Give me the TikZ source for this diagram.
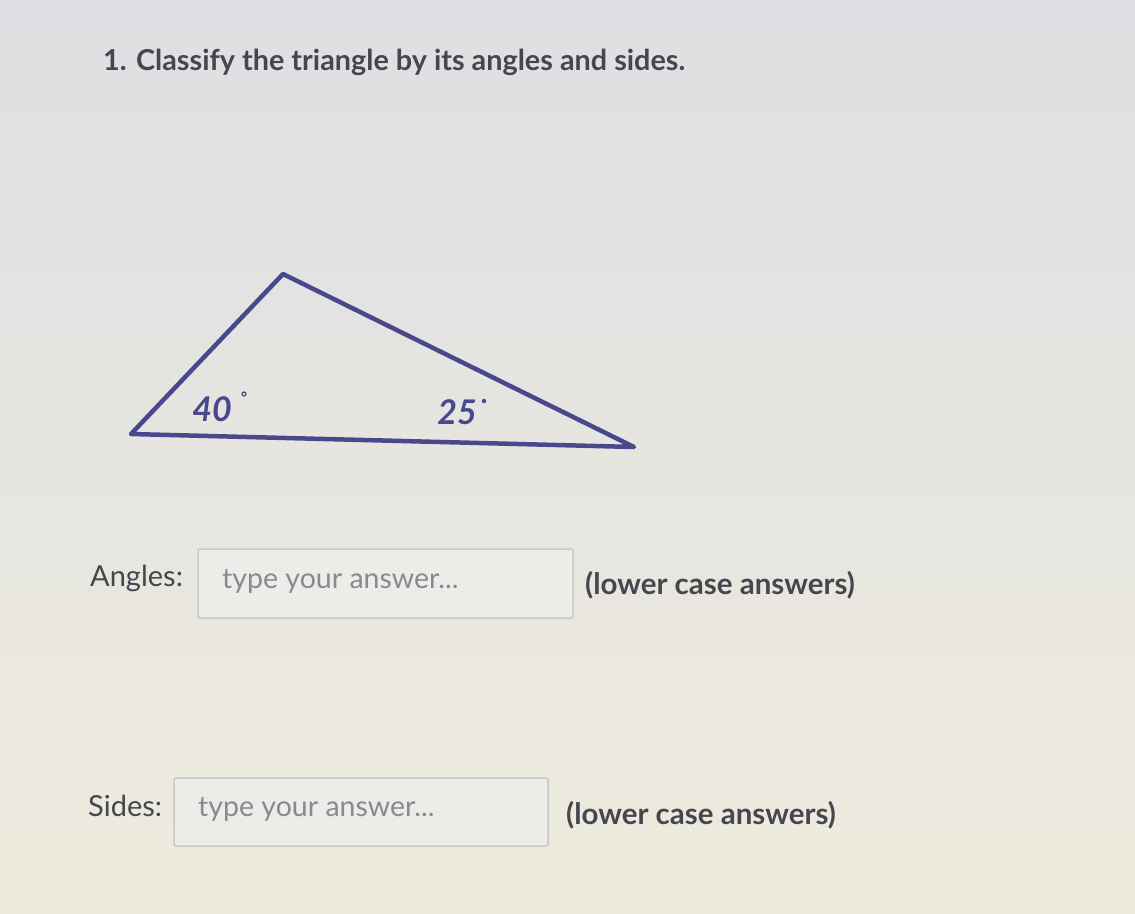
\documentclass[tikz,border=0pt]{standalone}
\usepackage{fontspec}
\setmainfont{Lato}
\definecolor{ink}{RGB}{72,72,140}
\definecolor{txt}{RGB}{70,70,78}
\definecolor{ph}{RGB}{135,138,145}
\definecolor{bgtop}{RGB}{222,223,226}
\definecolor{bgbot}{RGB}{238,235,222}
\definecolor{boxline}{RGB}{200,200,200}
\definecolor{boxfill}{RGB}{236,236,232}
\begin{document}
\begin{tikzpicture}[x=1pt,y=-1pt,
  label/.style={anchor=west,inner sep=0pt,text=txt,font=\fontsize{29}{32}\selectfont},
  note/.style={anchor=west,inner sep=0pt,text=txt,font=\bfseries\fontsize{29.5}{32}\selectfont},
  holder/.style={anchor=west,inner sep=0pt,text=ph,font=\fontsize{28.5}{32}\selectfont},
  answerbox/.style={draw=boxline,fill=boxfill,line width=1.5pt,rounded corners=2pt},
  edge/.style={draw=ink,line width=4.5pt,line cap=round,line join=round},
  hand/.style={inner sep=0pt,text=ink,font=\bfseries\itshape\fontsize{34}{36}\selectfont}]
\useasboundingbox (0,0) rectangle (1135,913);
\shade[top color=bgtop,bottom color=bgbot] (0,0) rectangle (1135,913);
% title
\node[anchor=base west,inner sep=0pt,text=txt,font=\bfseries\fontsize{28.8}{32}\selectfont] (title) at (103,70) {1. Classify the triangle by its angles and sides.};
% triangle
\coordinate (A) at (131,434);
\coordinate (B) at (283,274);
\coordinate (C) at (634,447);
\draw[edge] (A) -- (B) -- (C) -- cycle;
\node[hand] (a40) at (212,409) {40};
\draw[ink,line width=1.2pt] (244,394) circle (2pt);
\node[hand] (a25) at (457,412) {25};
\fill[ink] (484,401) circle (2.2pt);
% angles row
\node[label] (angles) at (90,578) {Angles:};
\draw[answerbox] (198,549) rectangle (573,618);
\node[holder] (ph1) at (222,581) {type your answer...};
\node[note] (n1) at (585,585) {(lower case answers)};
% sides row
\node[label] (sides) at (88,806) {Sides:};
\draw[answerbox] (174,778) rectangle (548,846);
\node[holder] (ph2) at (198,809) {type your answer...};
\node[note] (n2) at (566,815) {(lower case answers)};
\end{tikzpicture}
\end{document}
